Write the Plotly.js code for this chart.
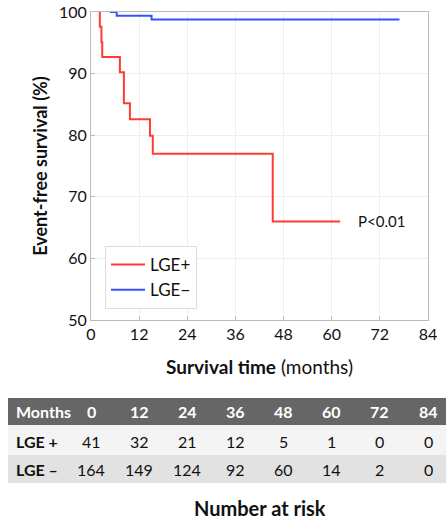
<!DOCTYPE html>
<html><head><meta charset="utf-8">
<script src="https://cdn.plot.ly/plotly-3.0.1.min.js"></script>
<style>html,body{margin:0;padding:0;background:#fff}</style>
</head><body><div id="chart" style="width:446px;height:519px"></div>
<script>
// Kaplan-Meier steps
const lgePlusMonths = [2.2, 2.2, 2.6, 2.8, 7.2, 8.2, 9.7, 14.7, 15.4, 45.3, 62.1];
const lgePlusSurv   = [100, 97.6, 95.1, 92.7, 90.2, 85.2, 82.6, 79.9, 77.0, 66.0, 66.0];
const lgeMinusMonths = [4.7, 6.4, 15.1, 76.9];
const lgeMinusSurv   = [100, 99.4, 98.8, 98.8];
// Number-at-risk table
const riskMonths = [0, 12, 24, 36, 48, 60, 72, 84];
const riskPlus   = [41, 32, 21, 12, 5, 1, 0, 0];
const riskMinus  = [164, 149, 124, 92, 60, 14, 2, 0];
const rowLabels  = ['LGE +', 'LGE \u2013'];

const FONT = 'Lato, "Open Sans", sans-serif';
const traces = [
  {x: lgePlusMonths, y: lgePlusSurv, mode: 'lines', line: {shape: 'hv', color: 'rgb(255,60,50)', width: 2}, name: 'LGE+'},
  {x: lgeMinusMonths, y: lgeMinusSurv, mode: 'lines', line: {shape: 'hv', color: 'rgb(55,80,255)', width: 2}, name: 'LGE\u2212'}
];

const plotBottom = 320, plotH = 308;
const py = p => (plotBottom - p) / plotH;       // pixel row -> paper y
const px = p => (p - 91) / 337;                 // pixel column -> paper x

const shapes = [
  {type: 'rect', xref: 'paper', yref: 'paper', x0: px(8), x1: px(446), y0: py(425), y1: py(398), fillcolor: '#666666', line: {width: 0}, layer: 'below'},
  {type: 'rect', xref: 'paper', yref: 'paper', x0: px(8), x1: px(446), y0: py(455), y1: py(425), fillcolor: '#f4f4f4', line: {width: 0}, layer: 'below'},
  {type: 'rect', xref: 'paper', yref: 'paper', x0: px(8), x1: px(446), y0: py(483), y1: py(455), fillcolor: '#e2e2e2', line: {width: 0}, layer: 'below'}
];

const ann = (o) => Object.assign({showarrow: false, yanchor: 'middle'}, o);
const annotations = [
  ann({xref: 'x', yref: 'y', x: 66, y: 66, text: 'P<0.01', xanchor: 'left', font: {family: FONT, size: 15, color: '#111'}}),
  ann({xref: 'paper', yref: 'paper', x: px(14), y: py(411.5), text: '<b>Months</b>', xanchor: 'left', font: {family: FONT, size: 16, color: '#fff'}}),
  ann({xref: 'paper', yref: 'paper', x: px(14), y: py(441), text: '<b>' + rowLabels[0] + '</b>', xanchor: 'left', font: {family: FONT, size: 16, color: '#111'}}),
  ann({xref: 'paper', yref: 'paper', x: px(14), y: py(469), text: '<b>' + rowLabels[1] + '</b>', xanchor: 'left', font: {family: FONT, size: 16, color: '#111'}}),
  ann({xref: 'paper', yref: 'paper', x: px(260), y: py(508), text: '<b>Number at risk</b>', xanchor: 'center', font: {family: FONT, size: 20, color: '#111'}})
];
riskMonths.forEach((m, i) => {
  annotations.push(ann({xref: 'x', yref: 'paper', x: m, y: py(411.5), xanchor: 'center', text: '<b>' + m + '</b>', font: {family: FONT, size: 16, color: '#fff'}}));
  annotations.push(ann({xref: 'x', yref: 'paper', x: m, y: py(441), xanchor: 'center', text: String(riskPlus[i]), font: {family: FONT, size: 16, color: '#111'}}));
  annotations.push(ann({xref: 'x', yref: 'paper', x: m, y: py(469), xanchor: 'center', text: String(riskMinus[i]), font: {family: FONT, size: 16, color: '#111'}}));
});

const layout = {
  width: 446, height: 519,
  margin: {l: 91, r: 18, t: 12, b: 199},
  paper_bgcolor: '#fff', plot_bgcolor: '#fff',
  font: {family: FONT, size: 15, color: '#111'},
  showlegend: true,
  legend: {x: px(105), y: py(246), xanchor: 'left', yanchor: 'top', bgcolor: '#fff', bordercolor: '#dddddd', borderwidth: 1,
           font: {family: FONT, size: 17, color: '#111'}, tracegroupgap: 0, itemwidth: 34},
  xaxis: {
    automargin: false,
    range: [0, 84], tickvals: riskMonths, ticktext: riskMonths.map(String),
    showgrid: true, gridcolor: '#eeeeee', zeroline: false,
    showline: true, mirror: true, linecolor: '#bbbbbb', linewidth: 1,
    ticks: 'inside', ticklen: 4, tickcolor: '#bbbbbb',
    tickfont: {family: FONT, size: 16, color: '#111'},
    title: {text: '<b>Survival time</b> (months)', font: {family: FONT, size: 19, color: '#111'}, standoff: 18}
  },
  yaxis: {
    automargin: false,
    range: [50, 100], tickvals: [50, 60, 70, 80, 90, 100],
    showgrid: true, gridcolor: '#eeeeee', zeroline: false,
    showline: true, mirror: true, linecolor: '#bbbbbb', linewidth: 1,
    ticks: 'inside', ticklen: 4, tickcolor: '#bbbbbb',
    tickfont: {family: FONT, size: 16, color: '#111'},
    title: {text: '<b>Event-free survival (%)</b>', font: {family: FONT, size: 18, color: '#111'}, standoff: 6}
  },
  shapes: shapes,
  annotations: annotations
};
Plotly.newPlot('chart', traces, layout, {displayModeBar: false, staticPlot: true});
</script></body></html>
